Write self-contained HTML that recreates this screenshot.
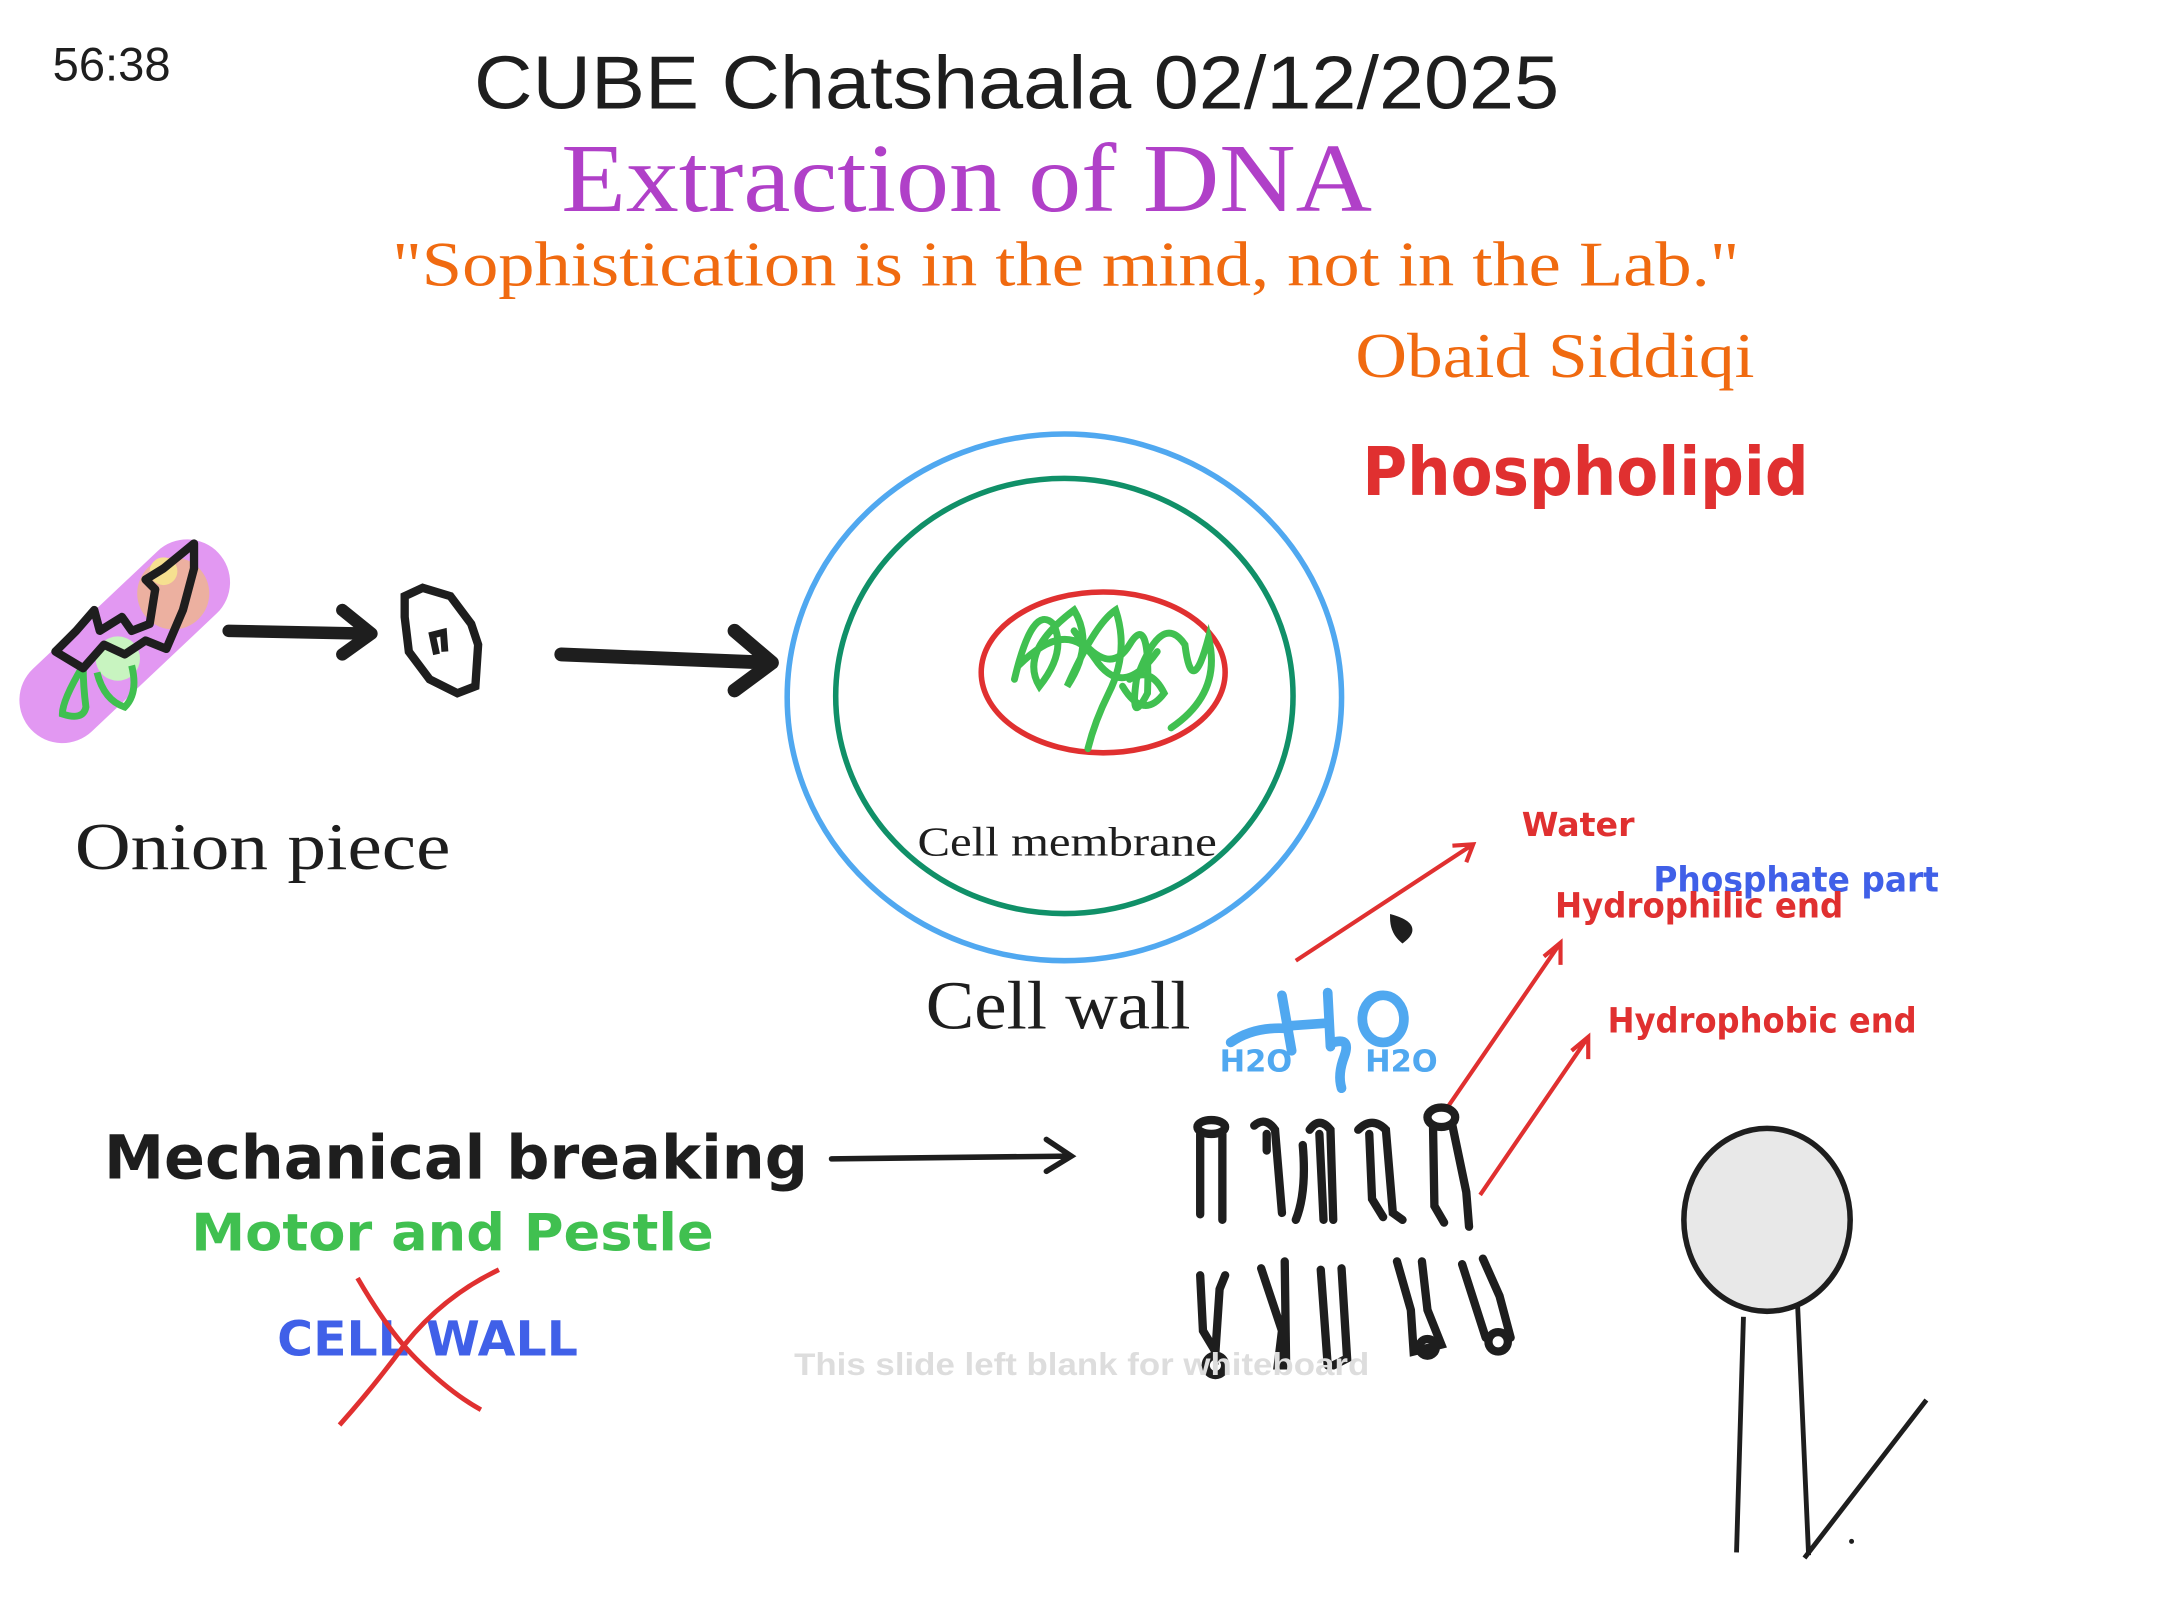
<!DOCTYPE html>
<html><head><meta charset="utf-8"><style>
html,body{margin:0;padding:0;background:#fff;overflow:hidden;}
svg{display:block;}
.hw{font-family:"DejaVu Sans","Liberation Sans",sans-serif;font-weight:bold;}
.sf{font-family:"Liberation Serif",serif;}
.ss{font-family:"Liberation Sans",sans-serif;}
</style></head><body>
<svg width="2162" height="1622" viewBox="0 0 1560 1170" xmlns="http://www.w3.org/2000/svg">
<rect width="1560" height="1170" fill="#fff"/>
<text x="38" y="58" class="ss" font-size="34" fill="#1e1e1e">56:38</text>
<text x="342" y="78" class="ss" font-size="54" fill="#1e1e1e" textLength="783" lengthAdjust="spacingAndGlyphs">CUBE Chatshaala 02/12/2025</text>
<text x="405" y="152" class="sf" font-size="70" fill="#b040c8" textLength="585" lengthAdjust="spacingAndGlyphs">Extraction of DNA</text>
<text x="283" y="206" class="sf" font-size="46" fill="#f06a10" textLength="972" lengthAdjust="spacingAndGlyphs">"Sophistication is in the mind, not in the Lab."</text>
<text x="978" y="272" class="sf" font-size="46" fill="#f06a10" textLength="288" lengthAdjust="spacingAndGlyphs">Obaid Siddiqi</text>
<text x="983" y="357" class="hw" font-size="48" fill="#e03030" textLength="322" lengthAdjust="spacingAndGlyphs">Phospholipid</text>

<!-- onion -->
<line x1="45" y1="505" x2="135" y2="420" stroke="#e298f2" stroke-width="62" stroke-linecap="round"/>
<circle cx="125" cy="428" r="26" fill="#ecb0a0"/>
<circle cx="118" cy="412" r="10" fill="#f6e090"/>
<circle cx="85" cy="475" r="16" fill="#c8f4c0"/>
<path d="M60 480 Q45 505 45 515 Q60 520 62 510 Q60 495 60 480 M70 485 Q75 505 90 510 Q100 500 95 480" fill="none" stroke="#40c050" stroke-width="5"/>
<path d="M40 470 L55 455 L68 440 L72 455 L88 445 L95 455 L108 450 L112 425 L105 418 L118 410 L140 392 L140 410 L132 440 L120 468 L105 462 L90 472 L75 465 L60 482 Z" fill="none" stroke="#1e1e1e" stroke-width="6" stroke-linejoin="round"/>
<!-- arrow 1 -->
<path d="M165 455 L265 457 M247 440 L268 457 L247 472" fill="none" stroke="#1e1e1e" stroke-width="9" stroke-linecap="round" stroke-linejoin="round"/>
<path d="M292 430 L305 424 L325 430 L340 450 L345 465 L343 495 L330 500 L310 490 L295 470 L292 445 Z" fill="none" stroke="#1e1e1e" stroke-width="6"/>
<path d="M315 472 L312 458 L320 456 L321 470" fill="none" stroke="#1e1e1e" stroke-width="5"/>
<!-- arrow 2 -->
<path d="M405 472 L555 478 M530 455 L557 478 L530 498" fill="none" stroke="#1e1e1e" stroke-width="10" stroke-linecap="round" stroke-linejoin="round"/>

<!-- cell -->
<ellipse cx="768" cy="503" rx="200" ry="190" fill="none" stroke="#50a8f0" stroke-width="4"/>
<ellipse cx="768" cy="502" rx="165" ry="157" fill="none" stroke="#109068" stroke-width="4"/>
<ellipse cx="796" cy="485" rx="88" ry="58" fill="none" stroke="#e03030" stroke-width="4"/>
<path d="M732 490 Q745 435 760 450 Q770 470 750 495 Q735 470 775 440 Q790 465 770 495 Q790 450 805 440 Q815 470 800 500 Q790 520 785 540 M775 455 Q800 490 815 465 Q830 440 828 500 Q815 525 820 490 Q838 440 855 465 Q860 505 872 460 Q882 500 845 525 M735 480 Q770 445 790 475 Q810 505 835 470 M810 495 Q825 520 840 500 Q830 480 815 490" fill="none" stroke="#40c050" stroke-width="5" stroke-linecap="round"/>
<text x="662" y="617" class="sf" font-size="30" fill="#1e1e1e" textLength="216" lengthAdjust="spacingAndGlyphs">Cell membrane</text>
<text x="54" y="627" class="sf" font-size="48" fill="#1e1e1e" textLength="271" lengthAdjust="spacingAndGlyphs">Onion piece</text>
<text x="668" y="742" class="sf" font-size="50" fill="#1e1e1e" textLength="191" lengthAdjust="spacingAndGlyphs">Cell wall</text>

<!-- labels right -->
<path d="M935 693 L1063 609 M1048 610 L1063 609 L1058 622" fill="none" stroke="#e03030" stroke-width="3"/>
<path d="M1005 662 Q1025 668 1012 678 Q1005 672 1005 662 Z" fill="#1e1e1e" stroke="#1e1e1e" stroke-width="4"/>
<text x="1098" y="603" class="hw" font-size="24" fill="#e03030">Water</text>
<text x="1193" y="643" class="hw" font-size="25" fill="#4060e8" textLength="206" lengthAdjust="spacingAndGlyphs">Phosphate part</text>
<text x="1122" y="662" class="hw" font-size="25" fill="#e03030" textLength="208" lengthAdjust="spacingAndGlyphs">Hydrophilic end</text>
<text x="1160" y="745" class="hw" font-size="25" fill="#e03030" textLength="223" lengthAdjust="spacingAndGlyphs">Hydrophobic end</text>
<path d="M1045 798 L1126 680 M1114 690 L1126 680 L1126 696 M1068 862 L1146 748 M1134 758 L1146 748 L1146 764" fill="none" stroke="#e03030" stroke-width="3"/>
<!-- H2O -->
<g stroke="#50a8f0" stroke-width="7" fill="none" stroke-linecap="round">
<path d="M925 718 L932 758 M958 716 L960 755 M930 740 L958 738 M888 752 Q905 740 930 742"/>
<path d="M962 752 Q975 748 970 762 Q965 775 968 785"/>
<ellipse cx="998" cy="735" rx="15" ry="17"/>
</g>
<text x="880" y="773" class="hw" font-size="22" fill="#50a8f0">H2O</text>
<text x="985" y="773" class="hw" font-size="22" fill="#50a8f0">H2O</text>

<!-- phospholipid bilayer -->
<g stroke="#1e1e1e" stroke-width="6" fill="none" stroke-linecap="round">
<ellipse cx="874" cy="813" rx="10" ry="5"/>
<path d="M866 818 L866 876 M882 818 L882 880"/>
<path d="M905 812 Q913 805 920 815 L925 875 M914 818 L914 830 M940 826 Q943 860 935 880"/>
<path d="M945 815 Q952 805 960 815 L962 880 M952 818 L955 880"/>
<path d="M980 815 Q990 805 1000 815 L1005 875 L1012 880 M988 818 L990 865 L998 878"/>
<ellipse cx="1040" cy="806" rx="10" ry="7"/>
<path d="M1034 812 L1035 870 L1042 882 M1048 812 L1058 860 L1060 885"/>
<path d="M866 920 L868 960 L877 975 L880 930 L884 920"/>
<circle cx="877" cy="985" r="7"/>
<path d="M910 915 L925 960 L922 985 L928 985 L927 910"/>
<path d="M953 916 L958 985 M968 915 L972 980 L962 985"/>
<path d="M1008 910 L1018 945 L1020 975 L1040 970 L1030 945 L1026 910"/>
<circle cx="1030" cy="972" r="6"/>
<path d="M1055 912 L1072 965 M1070 908 L1082 935 L1090 965"/>
<circle cx="1081" cy="968" r="7"/>
</g>
<!-- lollipop -->
<ellipse cx="1275" cy="880" rx="60" ry="66" fill="#e8e8e8" stroke="#1e1e1e" stroke-width="4"/>
<path d="M1258 950 L1253 1120 M1297 940 L1305 1122 M1302 1124 L1390 1010" fill="none" stroke="#1e1e1e" stroke-width="3.5"/>
<circle cx="1336" cy="1112" r="1.8" fill="#1e1e1e"/>

<!-- mechanical breaking -->
<text x="75" y="850" class="hw" font-size="44" fill="#1e1e1e" textLength="508" lengthAdjust="spacingAndGlyphs">Mechanical breaking</text>
<path d="M600 836 L772 834 M755 822 L773 834 L755 845" fill="none" stroke="#1e1e1e" stroke-width="4" stroke-linecap="round"/>
<text x="138" y="902" class="hw" font-size="37" fill="#40c050" textLength="377" lengthAdjust="spacingAndGlyphs">Motor and Pestle</text>
<text x="200" y="978" class="hw" font-size="35" fill="#4060e8" textLength="217" lengthAdjust="spacingAndGlyphs">CELL WALL</text>
<path d="M258 922 Q280 960 300 980 Q325 1005 347 1017 M360 916 Q320 935 292 970 Q270 1000 245 1028" fill="none" stroke="#e03030" stroke-width="3.5"/>
<text x="573" y="992" class="ss" font-size="23" font-weight="bold" fill="#dddddd" textLength="415" lengthAdjust="spacingAndGlyphs">This slide left blank for whiteboard</text>
</svg>
</body></html>
